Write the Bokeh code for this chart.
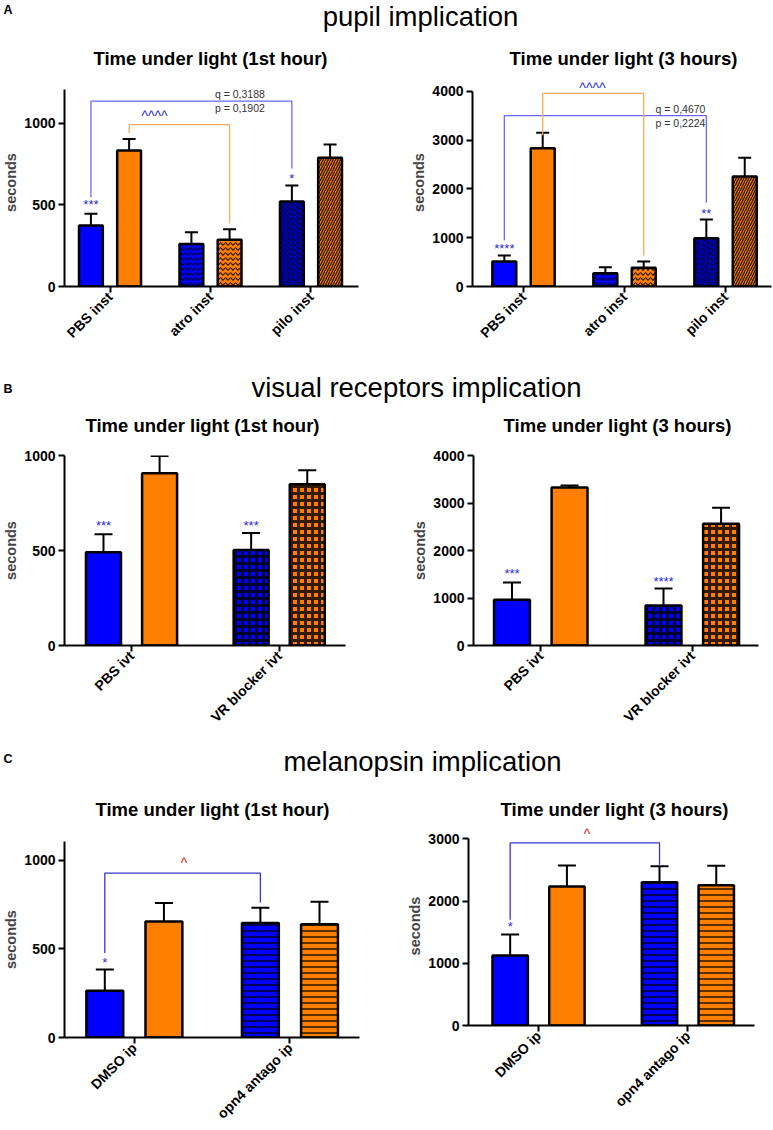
import math
from bokeh.plotting import figure
from bokeh.layouts import column, row
from bokeh.models import ColumnDataSource, FixedTicker, Whisker, TeeHead, Label, Range1d
from bokeh.core.properties import value
from bokeh.embed import file_html
from bokeh.resources import INLINE

FONT = "Liberation Sans"
BLUE = "#0000FF"
ORANGE = "#FF8000"
OFF = 0.19      # dodge of each bar from the category centre
BW = 0.237      # bar width (category units)

# ---------------- data ----------------
a_cats = ["PBS inst", "atro inst", "pilo inst"]
a_hatch = [" ", "v", "/"]
a1_blue = [373, 261, 520]
a1_blue_sem = [72, 72, 98]
a1_orange = [833, 286, 788]
a1_orange_sem = [71, 65, 82]
a2_blue = [512, 273, 990]
a2_blue_sem = [123, 123, 383]
a2_orange = [2834, 383, 2254]
a2_orange_sem = [316, 129, 383]

b_cats = ["PBS ivt", "VR blocker ivt"]
b_hatch = [" ", "+"]
b1_blue = [491, 502]
b1_blue_sem = [95, 90]
b1_orange = [907, 849]
b1_orange_sem = [90, 74]
b2_blue = [962, 842]
b2_blue_sem = [364, 358]
b2_orange = [3326, 2562]
b2_orange_sem = [42, 337]

c_cats = ["DMSO ip", "opn4 antago ip"]
c_hatch = [" ", "-"]
c1_blue = [263, 645]
c1_blue_sem = [121, 86]
c1_orange = [654, 639]
c1_orange_sem = [104, 126]
c2_blue = [1125, 2304]
c2_blue_sem = [338, 257]
c2_orange = [2235, 2256]
c2_orange_sem = [337, 311]

ticks_1000 = [0, 500, 1000]
ticks_4000 = [0, 1000, 2000, 3000, 4000]
ticks_3000 = [0, 1000, 2000, 3000]

HATCH_STYLE = {" ": (6, 1.0), "v": (5, 1.2), "/": (5, 1.4), "+": (7, 3.0), "-": (6, 1.6)}


def panel(cats, hatch, blue, blue_sem, orange, orange_sem, yticks, axis_top, yr,
          xr, width, height, left, right, top, bottom, cap):
    p = figure(width=width, height=height, x_range=Range1d(*xr), y_range=Range1d(*yr),
               toolbar_location=None, output_backend="svg", title=None,
               min_border_left=left, min_border_right=right,
               min_border_top=top, min_border_bottom=bottom)
    idx = list(range(len(cats)))
    scales = [HATCH_STYLE[h][0] for h in hatch]
    weights = [HATCH_STYLE[h][1] for h in hatch]
    for vals, sems, col, sign in ((blue, blue_sem, BLUE, -1), (orange, orange_sem, ORANGE, 1)):
        src = ColumnDataSource(dict(x=[i + sign * OFF for i in idx], top=vals,
                                    up=[v + s for v, s in zip(vals, sems)], hatch=hatch,
                                    hs=scales, hw=weights))
        w = Whisker(base="x", lower="top", upper="up", source=src, line_width=2, line_color="black",
                    upper_head=TeeHead(size=cap, line_width=2, line_color="black"), lower_head=None)
        p.add_layout(w)
        p.vbar(x="x", top="top", bottom=0, width=BW, source=src, fill_color=col, line_color="black",
               line_width=2.5, hatch_pattern="hatch", hatch_color="black", hatch_alpha=0.8,
               hatch_scale="hs", hatch_weight="hw")
    p.xaxis.ticker = FixedTicker(ticks=idx, minor_ticks=[])
    p.xaxis.major_label_overrides = {i: c for i, c in zip(idx, cats)}
    p.xaxis.major_label_orientation = math.pi / 4
    p.yaxis.ticker = FixedTicker(ticks=yticks, minor_ticks=[])
    p.yaxis.bounds = (0, axis_top)
    p.yaxis.axis_label = "seconds"
    p.yaxis.axis_label_text_font = FONT
    p.yaxis.axis_label_text_font_style = "bold"
    p.yaxis.axis_label_text_font_size = "14.5px"
    p.yaxis.axis_label_standoff = 2
    for ax in p.axis:
        ax.axis_line_width = 2
        ax.major_tick_line_width = 2
        ax.major_tick_out = 6
        ax.major_tick_in = 0
        ax.minor_tick_out = 0
        ax.minor_tick_in = 0
        ax.major_label_text_font = FONT
        ax.major_label_text_font_style = "bold"
        ax.major_label_text_color = "black"
        ax.major_label_text_font_size = "14px"
    p.xaxis.major_label_standoff = 2
    p.yaxis.major_label_standoff = 3
    p.xgrid.visible = False
    p.ygrid.visible = False
    p.outline_line_color = None
    return p


def bracket(p, x0, x1, foot0, top, foot1, color, width=1.3):
    p.line([x0, x0, x1, x1], [foot0, top, top, foot1], line_color=color, line_width=width)


def note(p, x, y, text, color, size="13px", align="center", baseline="middle"):
    p.add_layout(Label(x=x, y=y, text=text, text_color=color, text_font=FONT,
                       text_font_size=size, text_align=align, text_baseline=baseline))


STAR = "#2b2bd9"
BR_BLUE = "#6a6af5"
BR_ORANGE = "#f4ad5c"
BR_C = "#3535d0"
RED = "#e02020"

# ---------------- panel A ----------------
pa1 = panel(a_cats, a_hatch, a1_blue, a1_blue_sem, a1_orange, a1_orange_sem,
            ticks_1000, 1206, (0, 1274), (-0.453, 2.473), 390, 276, 61, 32, 2, 66, 13)
bracket(pa1, 0 - OFF, 2 - OFF, 547, 1135, 722, BR_BLUE)
bracket(pa1, 0 + OFF, 1 + OFF, 939, 992, 388, BR_ORANGE)
note(pa1, 0.443, 1047, "^^^^", STAR, "14px")
note(pa1, 1.044, 1182, "q = 0,3188", "#333333", "10.5px", "left")
note(pa1, 1.044, 1096, "p = 0,1902", "#333333", "10.5px", "left")
note(pa1, 0 - OFF, 502, "***", STAR)
note(pa1, 2 - OFF, 661, "*", STAR)

pa2 = panel(a_cats, a_hatch, a2_blue, a2_blue_sem, a2_orange, a2_orange_sem,
            ticks_4000, 4000, (0, 4264), (-0.505, 2.455), 383, 276, 82, 2, 2, 66, 13)
bracket(pa2, 0 - OFF, 2 - OFF, 943, 3504, 1715, BR_BLUE)
bracket(pa2, 0 + OFF, 1 + OFF, 3100, 3961, 635, BR_ORANGE)
note(pa2, 0.683, 4072, "^^^^", STAR, "14px")
note(pa2, 1.307, 3648, "q = 0,4670", "#333333", "10.5px", "left")
note(pa2, 1.307, 3346, "p = 0,2224", "#333333", "10.5px", "left")
note(pa2, 0 - OFF, 772, "****", STAR)
note(pa2, 2 - OFF, 1502, "**", STAR)

# ---------------- panel B ----------------
pb1 = panel(b_cats, b_hatch, b1_blue, b1_blue_sem, b1_orange, b1_orange_sem,
            ticks_1000, 1000, (0, 1000), (-0.454, 1.449), 390, 298, 58, 45, 15, 93, 18)
note(pb1, 0 - OFF, 634, "***", STAR)
note(pb1, 1 - OFF, 634, "***", STAR)

pb2 = panel(b_cats, b_hatch, b2_blue, b2_blue_sem, b2_orange, b2_orange_sem,
            ticks_4000, 4000, (0, 4000), (-0.444, 1.437), 383, 298, 83, 15, 15, 93, 18)
note(pb2, 0 - OFF, 1509, "***", STAR)
note(pb2, 1 - OFF, 1354, "****", STAR)

# ---------------- panel C ----------------
pc1 = panel(c_cats, c_hatch, c1_blue, c1_blue_sem, c1_orange, c1_orange_sem,
            ticks_1000, 1105, (0, 1105), (-0.449, 1.447), 390, 305, 63, 31, 16, 93, 18)
bracket(pc1, 0 - OFF, 1 - OFF, 476, 927, 761, BR_C)
note(pc1, 0.32, 981, "^", RED, "14px")
note(pc1, 0 - OFF, 423, "*", STAR)

pc2 = panel(c_cats, c_hatch, c2_blue, c2_blue_sem, c2_orange, c2_orange_sem,
            ticks_3000, 3000, (0, 3199), (-0.469, 1.446), 383, 305, 78, 19, 1, 105, 18)
bracket(pc2, 0 - OFF, 1 - OFF, 1699, 2937, 2583, BR_C)
note(pc2, 0.324, 3071, "^", RED, "14px")
note(pc2, 0 - OFF, 1592, "*", STAR)


# ---------------- section headers (section title + panel titles) ----------------
def header(h, letter, letter_y, title, title_x, title_y, sub_left, sub_right, sub_xs, sub_y):
    p = figure(width=773, height=h, x_range=Range1d(0, 773), y_range=Range1d(h, 0),
               toolbar_location=None, output_backend="svg", title=None, min_border=0,
               x_axis_type=None, y_axis_type=None)
    p.outline_line_color = None
    p.text(x=[3], y=[letter_y], text=[letter], text_font=value(FONT), text_font_size="12.5px",
           text_font_style="bold", text_baseline="middle", text_align="left", text_color="black")
    p.text(x=[title_x], y=[title_y], text=[title], text_font=value(FONT), text_font_size="27.5px",
           text_baseline="middle", text_align="center", text_color="black")
    p.text(x=sub_xs, y=[sub_y, sub_y], text=[sub_left, sub_right], text_font=value(FONT),
           text_font_size="18.5px", text_font_style="bold", text_baseline="middle",
           text_align="center", text_color="black")
    return p


SUB1 = "Time under light (1st hour)"
SUB3 = "Time under light (3 hours)"
ha = header(76, "A", 9, "pupil implication", 420, 16, SUB1, SUB3, [210, 623], 58)
hb = header(88, "B", 36, "visual receptors implication", 416, 35, SUB1, SUB3, [202, 617], 73)
hc = header(87, "C", 20, "melanopsin implication", 422, 22.5, SUB1, SUB3, [212, 614], 71)

layout = column(ha, row(pa1, pa2), hb, row(pb1, pb2), hc, row(column(pc1), column(pc2)))
open("out.html", "w").write(file_html(layout, INLINE))
